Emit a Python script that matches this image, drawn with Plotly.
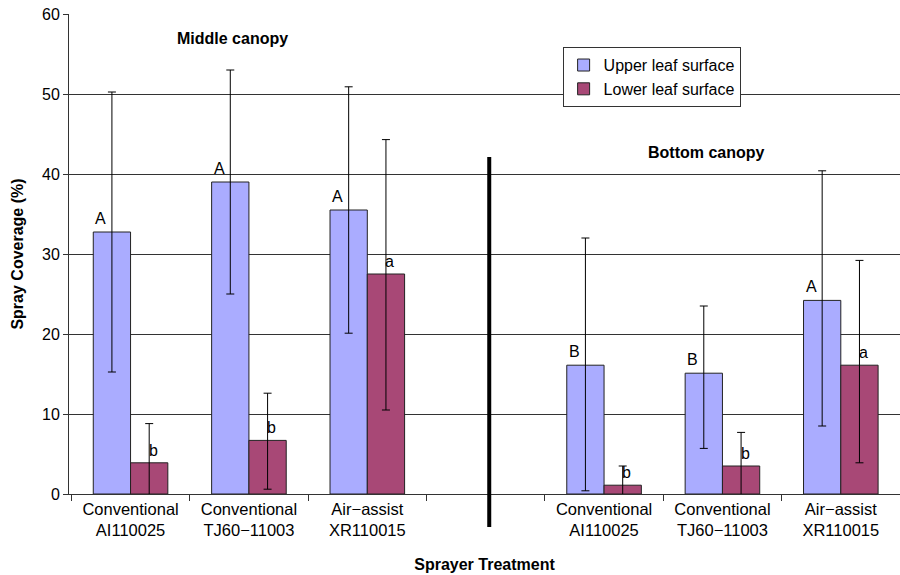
import plotly.graph_objects as go

categories = ["Conventional<br>AI110025", "Conventional<br>TJ60\u221211003", "Air\u2212assist<br>XR110015",
              "Conventional<br>AI110025", "Conventional<br>TJ60\u221211003", "Air\u2212assist<br>XR110015"]
x_pos = [0, 1, 2, 4, 5, 6]

upper = [32.75, 39.0, 35.5, 16.1, 15.1, 24.2]
upper_err_plus = [17.5, 14.0, 15.4, 15.9, 8.4, 16.2]
upper_err_minus = [17.5, 14.0, 15.4, 15.7, 9.4, 15.7]

lower = [3.9, 6.7, 27.5, 1.1, 3.5, 16.1]
lower_err_plus = [4.9, 5.9, 16.8, 2.4, 4.2, 13.1]
lower_err_minus = [4.9, 6.1, 17.0, 2.4, 4.2, 12.2]

upper_letters = ["A", "A", "A", "B", "B", "A"]
lower_letters = ["b", "b", "a", "b", "b", "a"]

UPPER_COLOR = "#AAACFF"
LOWER_COLOR = "#A84876"
FONT = "Liberation Sans, Arial, Helvetica, sans-serif"
BARGAP = 0.37
bw = (1 - BARGAP) / 2

fig = go.Figure()
fig.add_trace(go.Bar(
    x=x_pos, y=upper, name="Upper leaf surface",
    marker=dict(color=UPPER_COLOR, line=dict(color="#222", width=1)),
    error_y=dict(type="data", symmetric=False, array=upper_err_plus, arrayminus=upper_err_minus,
                 color="black", thickness=1, width=4),
))
fig.add_trace(go.Bar(
    x=x_pos, y=lower, name="Lower leaf surface",
    marker=dict(color=LOWER_COLOR, line=dict(color="#222", width=1)),
    error_y=dict(type="data", symmetric=False, array=lower_err_plus, arrayminus=lower_err_minus,
                 color="black", thickness=1, width=4),
))

annotations = []
for xp, v, t in zip(x_pos, upper, upper_letters):
    annotations.append(dict(x=xp - bw / 2, y=v, text=t, showarrow=False, xref="x", yref="y",
                            yanchor="bottom", xshift=-11, yshift=3,
                            font=dict(family=FONT, size=16, color="black")))
for xp, v, t in zip(x_pos, lower, lower_letters):
    annotations.append(dict(x=xp + bw / 2, y=v, text=t, showarrow=False, xref="x", yref="y",
                            yanchor="bottom", xshift=4, yshift=2,
                            font=dict(family=FONT, size=16, color="black")))
annotations.append(dict(x=0.865, y=56.9, text="<b>Middle canopy</b>", showarrow=False,
                        xref="x", yref="y", font=dict(family=FONT, size=16, color="black")))
annotations.append(dict(x=4.866, y=42.75, text="<b>Bottom canopy</b>", showarrow=False,
                        xref="x", yref="y", font=dict(family=FONT, size=16, color="black")))

fig.add_shape(type="line", xref="x", yref="paper", x0=3.03, x1=3.03, y0=-0.069, y1=0.702,
              line=dict(color="black", width=4))

fig.update_layout(
    width=900, height=575,
    margin=dict(l=69, r=0, t=14, b=81),
    paper_bgcolor="white", plot_bgcolor="white",
    barmode="group", bargap=BARGAP, bargroupgap=0,
    font=dict(family=FONT, size=16, color="black"),
    annotations=annotations,
    legend=dict(x=0.594, y=0.931, xanchor="left", yanchor="top",
                bordercolor="#333", borderwidth=1, bgcolor="white",
                font=dict(family=FONT, size=16, color="black"),
                itemwidth=30, tracegroupgap=6),
    xaxis=dict(range=[-0.52, 6.5], tickmode="array", tickvals=x_pos, ticktext=categories,
               ticks="", showgrid=False, zeroline=False, automargin=False,
               showline=True, linecolor="#333", linewidth=1,
               tickfont=dict(family=FONT, size=16.5, color="black"),
               minor=dict(tickmode="linear", tick0=0.5, dtick=1, ticks="outside",
                          ticklen=6, tickcolor="#333", tickwidth=1, showgrid=False),
               title=dict(text="<b>Sprayer Treatment</b>", standoff=20,
                          font=dict(family=FONT, size=16, color="black"))),
    yaxis=dict(range=[0, 60], dtick=10, ticks="outside", ticklen=5, tickcolor="#333",
               showgrid=True, gridcolor="#333", gridwidth=1, automargin=False,
               zeroline=False, showline=True, linecolor="#333", linewidth=1,
               tickfont=dict(family=FONT, size=16, color="black"),
               title=dict(text="<b>Spray Coverage (%)</b>", standoff=14,
                          font=dict(family=FONT, size=16, color="black"))),
)

# remove the browser's default 8px body margin so the figure sits at the page origin
fig.write_html("out.html", config={"displayModeBar": False},
               post_script="document.body.style.margin='0px';")
